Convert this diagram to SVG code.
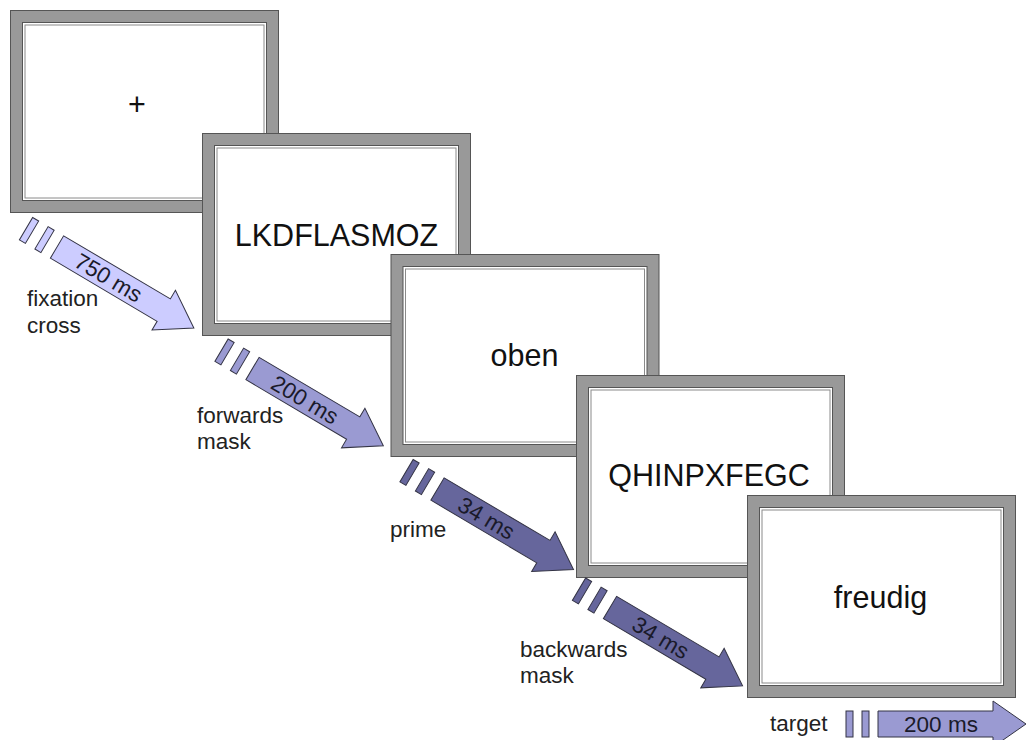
<svg xmlns="http://www.w3.org/2000/svg" xmlns:xlink="http://www.w3.org/1999/xlink" width="1028" height="740" viewBox="0 0 1028 740">
<style>
.outer{fill:#999999;stroke:#555555;stroke-width:1}
.inner{fill:#ffffff;stroke:#555555;stroke-width:1}
.inner2{fill:none;stroke:#8a8a8a;stroke-width:1}
.word{font-family:"Liberation Sans",Arial,sans-serif;font-size:30.5px;fill:#111111;text-anchor:middle}
.lbl{font-family:"Liberation Sans",Arial,sans-serif;font-size:22.5px;fill:#222222}
.atxt{font-family:"Liberation Sans",Arial,sans-serif;font-size:22.5px;fill:#1a1a2a;text-anchor:middle}
.arr{stroke:#333344;stroke-width:1;stroke-linejoin:miter}
.a1{fill:#ccccff}
.a2{fill:#9a9ad2}
.a3{fill:#66669c}
</style>
<defs>
<g id="frame">
<rect class="outer" x="0.5" y="0.5" width="268" height="202"/>
<rect class="inner" x="12.5" y="12.5" width="244" height="178"/>
<rect class="inner2" x="15" y="15" width="239" height="173"/>
</g>
</defs>
<rect x="0" y="0" width="1028" height="740" fill="#ffffff"/>

<g id="frame1" transform="translate(10,10)">
<use xlink:href="#frame"/>
<text class="word" x="127" y="104.5">+</text>
</g>
<g id="frame2" transform="translate(202,133)">
<use xlink:href="#frame"/>
<text class="word" x="134.5" y="113">LKDFLASMOZ</text>
</g>
<g id="frame3" transform="translate(390.5,254)">
<use xlink:href="#frame"/>
<text class="word" x="134" y="112">oben</text>
</g>
<g id="frame4" transform="translate(576,375)">
<use xlink:href="#frame"/>
<text class="word" x="133" y="111">QHINPXFEGC</text>
</g>
<g id="frame5" transform="translate(747,495)">
<use xlink:href="#frame"/>
<text class="word" x="133.5" y="113">freudig</text>
</g>

<g id="connectors">
<g id="arrow1" transform="translate(57,247) rotate(30.6)">
<rect class="arr a1" x="-36" y="-13" width="7" height="26"/>
<rect class="arr a1" x="-18" y="-13" width="7" height="26"/>
<path class="arr a1" d="M0,-13 H124 V-23 L159,0 L124,23 V13 H0 Z"/>
<text class="atxt" x="60" y="8">750 ms</text>
</g>
<g id="arrow2" transform="translate(252.5,368.5) rotate(30.6)">
<rect class="arr a2" x="-36" y="-13" width="7" height="26"/>
<rect class="arr a2" x="-18" y="-13" width="7" height="26"/>
<path class="arr a2" d="M0,-13 H117 V-23 L152,0 L117,23 V13 H0 Z"/>
<text class="atxt" x="61" y="8">200 ms</text>
</g>
<g id="arrow3" transform="translate(437.5,489) rotate(30.6)">
<rect class="arr a3" x="-36" y="-13" width="7" height="26"/>
<rect class="arr a3" x="-18" y="-13" width="7" height="26"/>
<path class="arr a3" d="M0,-13 H123 V-23 L158,0 L123,23 V13 H0 Z"/>
<text class="atxt" x="57" y="8">34 ms</text>
</g>
<g id="arrow4" transform="translate(610,607.5) rotate(30.6)">
<rect class="arr a3" x="-36" y="-13" width="7" height="26"/>
<rect class="arr a3" x="-18" y="-13" width="7" height="26"/>
<path class="arr a3" d="M0,-13 H119 V-23 L154,0 L119,23 V13 H0 Z"/>
<text class="atxt" x="59" y="8">34 ms</text>
</g>
<g id="arrow5" transform="translate(878,724)">
<rect class="arr a2" x="-32" y="-13" width="7" height="26"/>
<rect class="arr a2" x="-16" y="-13" width="7" height="26"/>
<path class="arr a2" d="M0,-13 H115 V-23 L148,0 L115,23 V13 H0 Z"/>
<text class="atxt" x="63" y="8">200 ms</text>
</g>
</g>

<g id="labels">
<text class="lbl" x="27" y="306">fixation</text>
<text class="lbl" x="27" y="333">cross</text>
<text class="lbl" x="197" y="423">forwards</text>
<text class="lbl" x="197" y="449">mask</text>
<text class="lbl" x="390" y="537">prime</text>
<text class="lbl" x="520" y="657">backwards</text>
<text class="lbl" x="520" y="683">mask</text>
<text class="lbl" x="770" y="731">target</text>
</g>
</svg>
